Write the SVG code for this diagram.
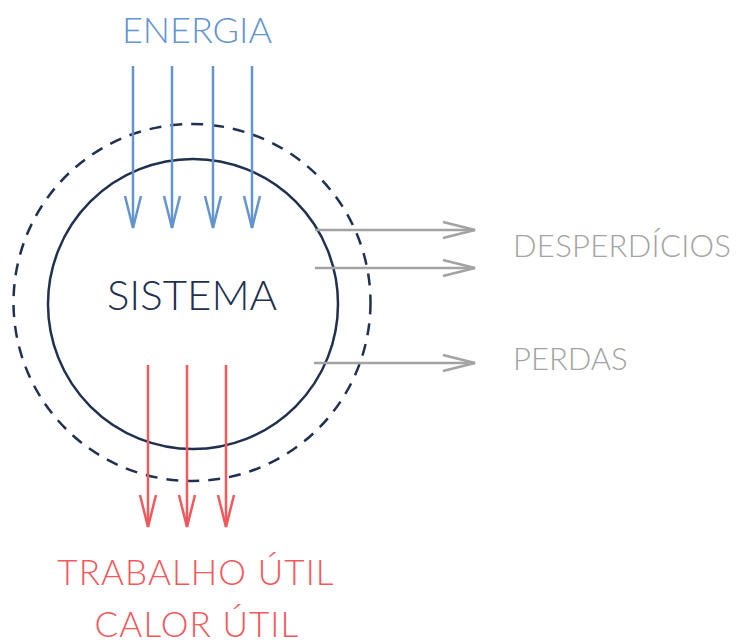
<svg xmlns="http://www.w3.org/2000/svg" width="737" height="643" viewBox="0 0 737 643">
<style>
text{font-family:Lato,"Open Sans","Liberation Sans",sans-serif;font-weight:300}
.blue{stroke:#6394d0;stroke-width:2.5;fill:none}
.grey{stroke:#a3a3a3;stroke-width:2.5;fill:none}
.red{stroke:#f2585c;stroke-width:2.5;fill:none}
</style>
<defs>
<marker id="mb" markerUnits="userSpaceOnUse" viewBox="-34 -10 36 20" refX="0" refY="0" markerWidth="36" markerHeight="20" orient="auto"><path d="M-32,-8 L0,0 L-32,8" fill="none" stroke="#6394d0" stroke-width="2.5"/></marker>
<marker id="mg" markerUnits="userSpaceOnUse" viewBox="-34 -10 36 20" refX="0" refY="0" markerWidth="36" markerHeight="20" orient="auto"><path d="M-32,-8 L0,0 L-32,8" fill="none" stroke="#a3a3a3" stroke-width="2.5"/></marker>
<marker id="mr" markerUnits="userSpaceOnUse" viewBox="-34 -10 36 20" refX="0" refY="0" markerWidth="36" markerHeight="20" orient="auto"><path d="M-32,-8 L0,0 L-32,8" fill="none" stroke="#f2585c" stroke-width="2.5"/></marker>
</defs>
<rect width="737" height="643" fill="#ffffff"/>
<g id="boundary">
<circle cx="192" cy="302.5" r="178.5" fill="none" stroke="#1f3050" stroke-width="2.5" stroke-dasharray="12 9"/>
</g>
<g id="sistema">
<circle cx="193" cy="304" r="145" fill="none" stroke="#1f3050" stroke-width="2.5"/>
<text x="192" y="310" font-size="42" fill="#1f3050" text-anchor="middle">SISTEMA</text>
</g>
<g id="energia">
<text x="197" y="43" font-size="36" fill="#6394d0" text-anchor="middle">ENERGIA</text>
</g>
<g id="desperdicios">
<text x="513" y="257" font-size="31" fill="#a3a3a3" letter-spacing="0.3">DESPERDÍCIOS</text>
</g>
<g id="perdas">
<text x="513" y="370" font-size="31" fill="#a3a3a3">PERDAS</text>
</g>
<g id="trabalho">
<text x="196" y="585" font-size="35" fill="#f2585c" text-anchor="middle" letter-spacing="1.1">TRABALHO ÚTIL</text>
<text x="197" y="637" font-size="35" fill="#f2585c" text-anchor="middle" letter-spacing="1.1">CALOR ÚTIL</text>
</g>
<g id="connectors">
<path class="blue" d="M133,66 V228" marker-end="url(#mb)"/>
<path class="blue" d="M172,66 V228" marker-end="url(#mb)"/>
<path class="blue" d="M213,66 V228" marker-end="url(#mb)"/>
<path class="blue" d="M252,66 V228" marker-end="url(#mb)"/>
<path class="grey" d="M315,230 H475" marker-end="url(#mg)"/>
<path class="grey" d="M315,268 H475" marker-end="url(#mg)"/>
<path class="grey" d="M314,363 H475" marker-end="url(#mg)"/>
<path class="red" d="M148,365 V527" marker-end="url(#mr)"/>
<path class="red" d="M187,365 V527" marker-end="url(#mr)"/>
<path class="red" d="M226,365 V527" marker-end="url(#mr)"/>
</g>
</svg>
